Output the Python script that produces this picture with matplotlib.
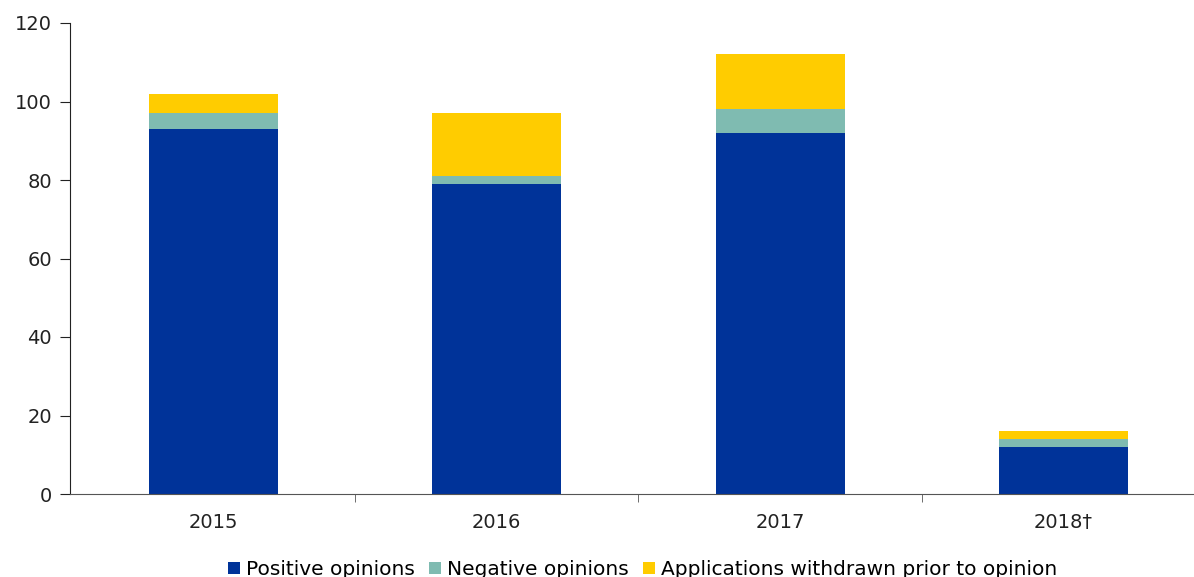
import numpy as np
import matplotlib
matplotlib.use('Agg')
import matplotlib.pyplot as plt

# Datos
years = ['2015', '2016', '2017', '2018†']
positive = [93, 79, 92, 12]
negative = [4, 2, 6, 2]
withdrawn = [5, 16, 14, 2]

plt.rcParams['font.family'] = ['DejaVu Sans']

fig = plt.figure(figsize=(11.94, 5.77), dpi=100)
ax = fig.add_axes([70 / 1194, 1 - 494 / 577, 1 - 70 / 1194, (494 - 23) / 577])

x = np.arange(len(years))
w = 0.455
pos = np.array(positive)
neg = np.array(negative)
ax.bar(x, pos, w, color='#003399', label='Positive opinions')
ax.bar(x, neg, w, bottom=pos, color='#7FBBB1', label='Negative opinions')
ax.bar(x, withdrawn, w, bottom=pos + neg, color='#FFCC00',
       label='Applications withdrawn prior to opinion')

ax.set_ylim(0, 120)
ax.set_yticks(range(0, 121, 20))
ax.set_xlim(-0.505, 3.46)
ax.set_xticks(x)
ax.set_xticklabels(years)
ax.set_xticks(x[:-1] + 0.5, minor=True)
ax.tick_params(axis='x', which='major', length=0, pad=14, labelsize=14, colors='#222222')
ax.tick_params(axis='x', which='minor', length=6, color='#555555')
ax.tick_params(axis='y', length=7, labelsize=14, colors='#222222', pad=6)

for s in ['top', 'right']:
    ax.spines[s].set_visible(False)
ax.spines['left'].set_color('#222222')
ax.spines['bottom'].set_color('#555555')

fig.legend(loc='lower center', bbox_to_anchor=(0.538, -0.035), ncol=3, frameon=False,
           fontsize=14.5, handlelength=0.6, handleheight=0.6, handletextpad=0.3,
           columnspacing=0.7)

plt.savefig('out.png', dpi=100)
